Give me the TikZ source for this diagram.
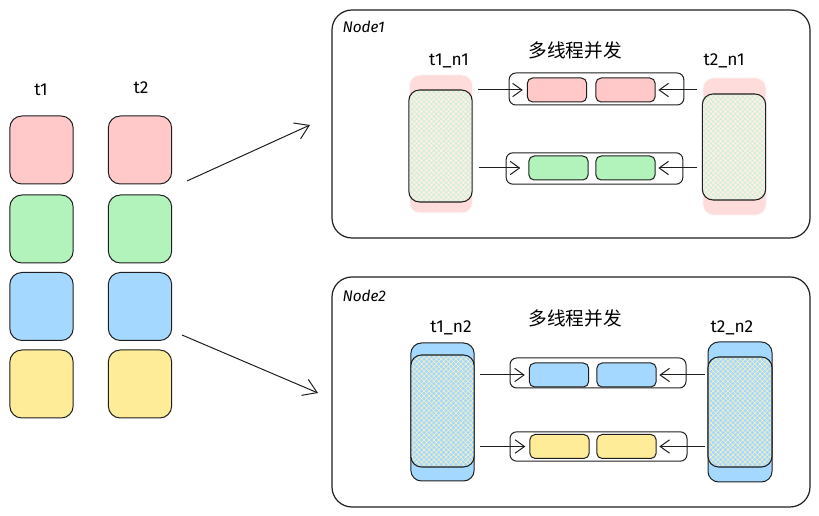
\documentclass[tikz,border=0pt]{standalone}
\usepackage{fontspec}
\setmainfont{Fira Sans}
\newfontfamily\cjk{Noto Sans CJK SC}
\usetikzlibrary{arrows.meta,patterns.meta}

\definecolor{pinkc}{HTML}{FFC9C9}
\definecolor{greenc}{HTML}{B2F2BB}
\definecolor{bluec}{HTML}{A5D8FF}
\definecolor{yellowc}{HTML}{FFEC99}
\definecolor{inkc}{HTML}{1E1E1E}

\begin{document}
\begin{tikzpicture}[x=0.75pt,y=0.75pt,yscale=-1,
  line width=0.75pt,
  cell/.style={draw=inkc,rounded corners=9pt,minimum width=47.5pt,minimum height=51pt,inner sep=0pt},
  frame/.style={draw=inkc,line width=0.9pt,rounded corners=15pt,minimum width=358.5pt,inner sep=0pt},
  block/.style={rounded corners=8pt,minimum width=47.5pt,inner sep=0pt},
  hatch/.style 2 args={draw=inkc,line width=0.8pt,rounded corners=8pt,minimum width=47.5pt,inner sep=0pt,
    preaction={fill=#1},
    preaction={pattern={Lines[angle=45,distance=2.6pt,line width=0.4pt]},pattern color=#2},
    preaction={pattern={Lines[angle=-45,distance=2.6pt,line width=0.4pt]},pattern color=#2}},
  queue/.style={draw=inkc,rounded corners=5pt,inner sep=0pt},
  item/.style={draw=inkc,rounded corners=4pt,minimum width=44.5pt,minimum height=18pt,inner sep=0pt},
  lbl/.style={font=\fontsize{13}{15}\selectfont,inner sep=0.75pt},
  title/.style={font=\cjk\fontsize{14}{16}\selectfont,inner sep=0.75pt},
  arr/.style={-{Straight Barb[length=7pt,width=10pt]},draw=inkc},
  bigarr/.style={-{Straight Barb[length=10pt,width=13pt]},draw=inkc}]
\useasboundingbox (0,0) rectangle (819,516);

% left columns
\node[lbl] (t1) at (41,90) {t1};
\node[lbl] (t2) at (141,88) {t2};
\foreach \c/\y [count=\i] in {pinkc/150,greenc/229,bluec/306.5,yellowc/384} {
  \node[cell,fill=\c] (a\i) at (41.5,\y) {};
  \node[cell,fill=\c] (b\i) at (140,\y) {};
}

% frames
\node[frame,minimum height=171pt] (node1) at (571,124) {};
\node[frame,minimum height=172.5pt] (node2) at (571,392) {};
\node[lbl,anchor=west,font=\itshape\fontsize{11.5}{13}\selectfont] (n1lbl) at (341,27) {Node1};
\node[lbl,anchor=west,font=\itshape\fontsize{11.5}{13}\selectfont] (n2lbl) at (341,296) {Node2};

% fan out
\coordinate (s1) at (187,181);
\coordinate (e1) at (310,125);
\coordinate (s2) at (182,335);
\coordinate (e2) at (318,393);
\draw[bigarr] (s1) -- (e1);
\draw[bigarr] (s2) -- (e2);

% Node1
\node[title] (mt1) at (575,50) {多线程并发};
\node[lbl] (l11) at (449,61) {t1\_n1};
\node[lbl] (l21) at (724,61) {t2\_n1};
\node[block,fill=pinkc!65,draw=pinkc!90!black!10,minimum height=103.5pt] (t11o) at (441,144) {};
\node[hatch={pinkc!35}{greenc!80},minimum height=84pt] (t11) at (440.5,146) {};
\node[block,fill=pinkc!65,draw=pinkc!90!black!10,minimum height=103pt] (t21o) at (734.5,146.5) {};
\node[hatch={pinkc!35}{greenc!80},minimum height=79.5pt] (t21) at (734,147) {};
\node[queue,minimum width=131pt,minimum height=24pt] (q11) at (596.5,89) {};
\node[item,fill=pinkc] (c111) at (557,90) {};
\node[item,fill=pinkc] (c112) at (625.5,90) {};
\node[queue,minimum width=132.5pt,minimum height=23.5pt] (q12) at (594.5,168.5) {};
\node[item,fill=greenc] (c121) at (558.5,168) {};
\node[item,fill=greenc] (c122) at (625.5,168) {};
\draw[arr,shorten <=4pt,shorten >=3pt] (t11.east |- c111) -- (c111.west);
\draw[arr,shorten <=5pt,shorten >=6pt] (t11.east |- c121) -- (c121.west);
\draw[arr,shorten <=4pt,shorten >=2pt] (t21o.west |- c112) -- (c112.east);
\draw[arr,shorten <=4pt,shorten >=2pt] (t21o.west |- c122) -- (c122.east);

% Node2
\node[title] (mt2) at (575,318) {多线程并发};
\node[lbl] (l12) at (451,328) {t1\_n2};
\node[lbl] (l22) at (732,328) {t2\_n2};
\node[block,fill=bluec,draw=inkc,minimum height=103.5pt] (t12o) at (442.5,412) {};
\node[hatch={bluec}{yellowc!70},minimum height=84pt] (t12) at (442.5,411) {};
\node[block,fill=bluec,draw=inkc,minimum height=105pt,minimum width=48pt] (t22o) at (740,412) {};
\node[hatch={bluec}{yellowc!70},minimum height=82.5pt,minimum width=48pt] (t22) at (740,412) {};
\node[queue,minimum width=132pt,minimum height=22.5pt] (q21) at (598,373) {};
\node[item,fill=bluec] (c211) at (559,375) {};
\node[item,fill=bluec] (c212) at (626.5,375) {};
\node[queue,minimum width=132.75pt,minimum height=22pt] (q22) at (598.5,446.5) {};
\node[item,fill=yellowc] (c221) at (559.5,446.5) {};
\node[item,fill=yellowc] (c222) at (626.5,446.5) {};
\draw[arr,shorten <=4pt,shorten >=3pt] (t12.east |- c211) -- (c211.west);
\draw[arr,shorten <=4pt,shorten >=3pt] (t12.east |- c221) -- (c221.west);
\draw[arr,shorten <=2pt,shorten >=2pt] (t22.west |- c212) -- (c212.east);
\draw[arr,shorten <=2pt,shorten >=2pt] (t22.west |- c222) -- (c222.east);
\end{tikzpicture}
\end{document}
